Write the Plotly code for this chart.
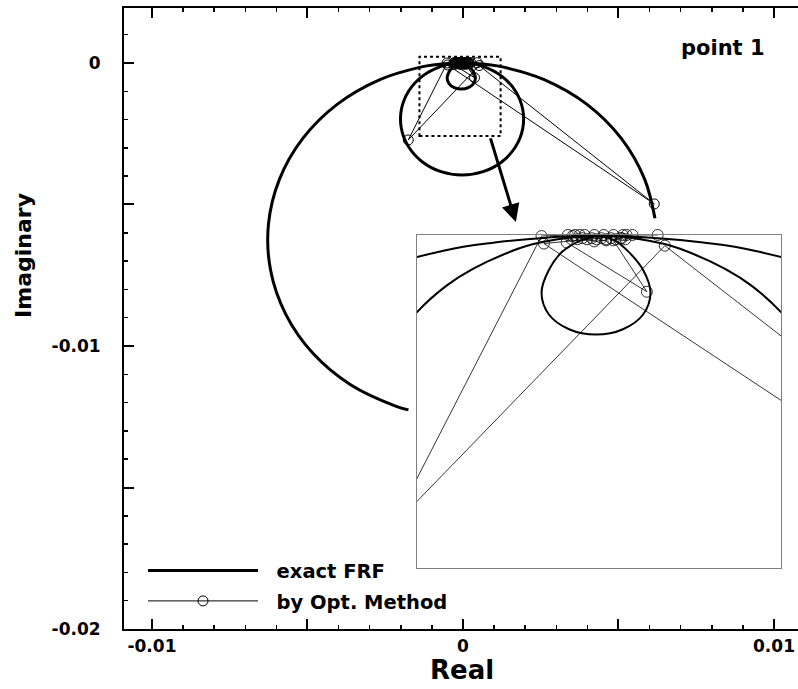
import plotly.graph_objects as go

# ---------------- data ----------------
# exact FRF curve (real, imag): large arc right part, medium loop, small loop, large arc left part
frf_real = [0.006173, 0.005843, 0.00509, 0.003988, 0.002611, 0.001269, 0.00084, 0.000406, -0.00003,
            -0.000374, -0.000707, -0.001303, -0.001745, -0.00198, -0.00198, -0.001745, -0.001303,
            -0.000707, -0.00003, 0.000647, 0.001243, 0.001685, 0.00192, 0.00192, 0.001685, 0.001243,
            0.000647, 0.000314, -0.00003,
            -0.00018, -0.00034, -0.00045, -0.00051, -0.00045, -0.00028, -0.000055, 0.00017, 0.00034,
            0.0004, 0.00034, 0.00022, 0.0001, -0.00003,
            -0.000466, -0.0009, -0.001329, -0.002671, -0.004048, -0.00515, -0.005903, -0.006256,
            -0.006185, -0.005694, -0.004818, -0.003615, -0.002168, -0.001753]
frf_imag = [-0.005488, -0.004112, -0.002665, -0.001462, -0.000586, -0.000137, -0.0000606, -0.000015, 0.0,
            -0.00003, -0.000119, -0.000463, -0.00099, -0.001636, -0.002324, -0.00297, -0.003497,
            -0.003841, -0.00396, -0.003841, -0.003497, -0.00297, -0.002324, -0.001636, -0.00099, -0.000463,
            -0.000119, -0.00003, 0.0,
            -0.00004, -0.00015, -0.00032, -0.00053, -0.00073, -0.00087, -0.00092, -0.00087, -0.00073,
            -0.00053, -0.00032, -0.00015, -0.00004, 0.0,
            -0.000015, -0.0000606, -0.000137, -0.000586, -0.001462, -0.002665, -0.004112, -0.005705,
            -0.007335, -0.008891, -0.010268, -0.01137, -0.012123, -0.012258]

# points identified by the optimisation method, in order
opt_real = [0.00046, 0.00025, -0.00049, 0.00615, 0.00052, -0.00176, -0.00051, -0.00029, -0.0003,
            0.00037, 0.00009, 0.00016, 0.0002, 0.00019, 0.00017, 0.00015, 0.00013, 0.00011, 0.00009,
            0.00007, 0.00005, 0.00003, 0.00001, -0.00001, -0.00003, -0.00005, -0.00007, -0.00009,
            -0.00011, -0.00013, -0.00015, -0.00017, -0.00019, -0.00021, -0.00023, -0.00025,
            -0.00007, 0.00003]
opt_imag = [0.00001, 0.00001, -0.00007, -0.00498, -0.00009, -0.00272, 0.0, 0.00001, -0.00006,
            -0.00052, -0.00004, -0.00002, 0.00001, -0.00003, 0.00001, -0.00002, 0.00002, -0.00003,
            0.00001, -0.00002, 0.00002, -0.00003, 0.00001, -0.00002, 0.00002, -0.00003, 0.00001,
            -0.00002, 0.00002, -0.00003, 0.00001, -0.00002, 0.00001, -0.00003, 0.00001, 0.0,
            -0.00005, -0.00004]

x_tickvals = [-0.01, -0.005, 0, 0.005, 0.01]
x_ticktext = ["-0.01", "", "0", "", "0.01"]
y_tickvals = [-0.02, -0.015, -0.01, -0.005, 0]
y_ticktext = ["-0.02", "", "-0.01", "", "0"]

series_names = ["exact FRF", "by Opt. Method"]
panel_label = "point 1"

# zoomed window shown in the inset
zoom_x = [-0.0014, 0.00121]
zoom_y = [-0.00258, 0.00022]
inset_x = [-0.00155, 0.00149]
inset_y = [-0.0031, 0.00001]

# ---------------- figure ----------------
FONT = "DejaVu Sans"
NB = "\u00a0"
fig = go.Figure()

fig.add_trace(go.Scatter(x=frf_real, y=frf_imag, mode="lines", name=NB * 2 + series_names[0],
                         line=dict(color="black", width=3, shape="spline"),
                         legendgroup="a"))
fig.add_trace(go.Scatter(x=opt_real, y=opt_imag, mode="lines+markers", name=NB * 2 + series_names[1],
                         line=dict(color="black", width=1),
                         marker=dict(symbol="circle-open", size=10, color="black",
                                     line=dict(width=1, color="black")),
                         legendgroup="b"))

# inset copies
fig.add_trace(go.Scatter(x=frf_real, y=frf_imag, mode="lines", xaxis="x2", yaxis="y2",
                         line=dict(color="black", width=2, shape="spline"), showlegend=False))
fig.add_trace(go.Scatter(x=opt_real, y=opt_imag, mode="lines", xaxis="x2", yaxis="y2",
                         line=dict(color="black", width=0.8), showlegend=False))
in_x, in_y = [], []
for xr, yi in zip(opt_real, opt_imag):
    if inset_x[0] <= xr <= inset_x[1] and inset_y[0] <= yi <= inset_y[1] + 0.0001:
        in_x.append(xr)
        in_y.append(yi)
fig.add_trace(go.Scatter(x=in_x, y=in_y, mode="markers", xaxis="x2", yaxis="y2",
                         marker=dict(symbol="circle-open", size=11, color="black",
                                     line=dict(width=0.8, color="black")),
                         cliponaxis=False, showlegend=False))

tickfont = dict(family=FONT, size=17, color="black", weight="bold")
minor = dict(tick0=0, dtick=0.001, ticks="inside", ticklen=4, tickwidth=1.5,
             tickcolor="black", showgrid=False)

fig.update_layout(
    width=798, height=689,
    margin=dict(l=124, r=0, t=8, b=60, autoexpand=False),
    paper_bgcolor="white", plot_bgcolor="white",
    hovermode=False,
    xaxis=dict(range=[-0.0109, 0.010772], showline=True, linecolor="black", linewidth=2,
               mirror="ticks", ticks="inside", ticklen=10, tickwidth=2, tickcolor="black",
               tickmode="array", tickvals=x_tickvals, ticktext=x_ticktext, tickfont=tickfont,
               minor=minor, showgrid=False, zeroline=False, ticklabelstandoff=1,
               automargin=False),
    yaxis=dict(range=[-0.02, 0.001943], showline=True, linecolor="black", linewidth=2,
               mirror=False, ticks="inside", ticklen=10, tickwidth=2, tickcolor="black",
               tickmode="array", tickvals=y_tickvals, ticktext=y_ticktext, tickfont=tickfont,
               minor=minor, showgrid=False, zeroline=False, ticklabelstandoff=18,
               automargin=False),
    xaxis2=dict(domain=[0.4347, 0.9748], range=inset_x, anchor="y2", showline=True,
                mirror=True, linecolor="#808080", linewidth=1, ticks="", showticklabels=False,
                showgrid=False, zeroline=False, automargin=False),
    yaxis2=dict(domain=[0.0982, 0.6345], range=inset_y, anchor="x2", showline=True,
                mirror=True, linecolor="#808080", linewidth=1, ticks="", showticklabels=False,
                showgrid=False, zeroline=False, automargin=False),
    legend=dict(x=0.0282, y=0.125, xanchor="left", yanchor="top", bgcolor="rgba(0,0,0,0)",
                font=dict(family=FONT, size=19.5, color="black", weight="bold"),
                itemwidth=110, tracegroupgap=2),
    showlegend=True,
)

fig.add_shape(type="rect", xref="x", yref="y", x0=zoom_x[0], x1=zoom_x[1],
              y0=zoom_y[0], y1=zoom_y[1], line=dict(color="black", width=2, dash="dot"))

fig.add_annotation(x=0.0017, y=-0.00562, ax=0.00087, ay=-0.00261, xref="x", yref="y",
                   axref="x", ayref="y", showarrow=True, arrowhead=2, arrowsize=1.2,
                   arrowwidth=3, arrowcolor="black", text="")

fig.add_annotation(x=0.8887, y=0.9356, xref="paper", yref="paper", text=panel_label,
                   xanchor="center", yanchor="middle", showarrow=False,
                   font=dict(family=FONT, size=21, color="black", weight="bold"))
fig.add_annotation(x=0.5015, y=-0.0660, xref="paper", yref="paper", text="Real",
                   xanchor="center", yanchor="middle", showarrow=False,
                   font=dict(family=FONT, size=26, color="black", weight="bold"))
fig.add_annotation(x=-0.1484, y=0.6023, xref="paper", yref="paper", text="Imaginary",
                   xanchor="center", yanchor="middle", textangle=-90, showarrow=False,
                   font=dict(family=FONT, size=22, color="black", weight="bold"))

fig.write_html(
    "out.html",
    config={"displayModeBar": False, "staticPlot": True},
    post_script="document.body.style.margin='0px';document.body.style.overflow='hidden';",
)
